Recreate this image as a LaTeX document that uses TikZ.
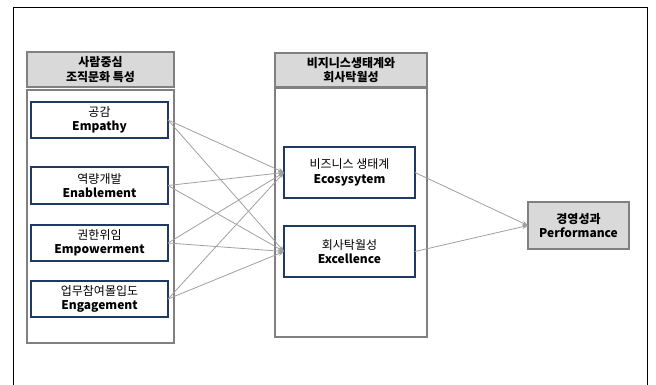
\documentclass[tikz,border=0pt]{standalone}
\usepackage{fontspec}
\setmainfont{Noto Sans CJK KR}
\usetikzlibrary{arrows.meta, positioning}

\definecolor{boxblue}{HTML}{1F3864}
\definecolor{framegray}{HTML}{808080}
\definecolor{headgray}{HTML}{D9D9D9}
\definecolor{linegray}{HTML}{A0A0A0}

\begin{document}
\begin{tikzpicture}[
  x=1pt, y=-1pt,
  head/.style={draw=framegray, fill=headgray, line width=1.2pt, inner sep=0pt, outer sep=0pt,
    align=center, font=\fontsize{12}{14.5}\selectfont\bfseries},
  group/.style={draw=framegray, line width=1.5pt, inner sep=0pt, outer sep=0pt},
  factor/.style={draw=boxblue, fill=white, line width=1.6pt, inner sep=0pt, outer sep=0pt,
    align=center, font=\fontsize{12}{14.5}\selectfont},
  arrow/.style={-{Stealth[length=6pt, width=4.5pt]}, draw=linegray, line width=0.8pt},
]
\useasboundingbox (0,0) rectangle (656,385);

% Outer frame (open at the bottom)
\draw[line width=1pt] (13,385) -- (13,8) -- (647,8) -- (647,385);

% Groups
\node[head, minimum width=147, minimum height=35] (lhead) at (100.5,69.5) {사람중심\\조직문화 특성};
\node[group, minimum width=147, minimum height=253] (lgroup) at (100.5,216.5) {};
\node[head, minimum width=152, minimum height=34] (mhead) at (351,70) {비지니스생태계와\\회사탁월성};
\node[group, minimum width=152, minimum height=249] (mgroup) at (351,212.5) {};

% Culture factors
\node[factor, minimum width=137, minimum height=36] (emp) at (99.5,120) {공감\\\textbf{Empathy}};
\node[factor, minimum width=137, minimum height=37] (ena) at (99.5,185.5) {역량개발\\\textbf{Enablement}};
\node[factor, minimum width=137, minimum height=36] (epw) at (99.5,243) {권한위임\\\textbf{Empowerment}};
\node[factor, minimum width=137, minimum height=36] (eng) at (99.5,299) {업무참여몰입도\\\textbf{Engagement}};

% Mediators
\node[factor, minimum width=131, minimum height=51] (eco) at (349.5,172.5) {비즈니스 생태계\\\textbf{Ecosysytem}};
\node[factor, minimum width=131, minimum height=51] (exc) at (349.5,251.5) {회사탁월성\\\textbf{Excellence}};

% Outcome
\node[head, minimum width=101, minimum height=47] (perf) at (578.5,225.5) {경영성과\\Performance};

% Paths
\foreach \src in {emp, ena, epw, eng} {
  \draw[arrow] (\src.east) -- (eco.west);
  \draw[arrow] (\src.east) -- (exc.west);
}
\draw[arrow] (eco.east) -- (perf.west);
\draw[arrow] (exc.east) -- (perf.west);

\end{tikzpicture}
\end{document}
